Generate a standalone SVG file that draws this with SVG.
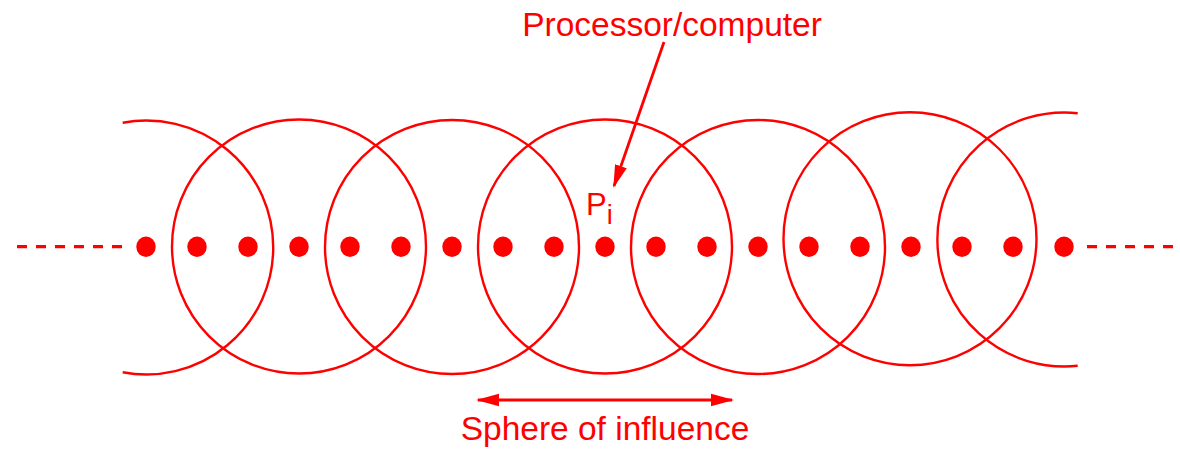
<svg xmlns="http://www.w3.org/2000/svg" width="1180" height="451" viewBox="0 0 1180 451">
<style>
.c{fill:none;stroke:#ff0000;stroke-width:2.4}
.d{fill:#ff0000}
.t{font-family:"Liberation Sans",Arial,sans-serif;fill:#ff0000}
.dash{stroke:#ff0000;stroke-width:3.2;stroke-dasharray:10 9}
.arr{stroke:#ff0000;stroke-width:2.8;fill:none}
</style>
<defs>
<marker id="ah" markerUnits="userSpaceOnUse" markerWidth="24" markerHeight="14" refX="21" refY="7" orient="auto-start-reverse" viewBox="0 0 24 14">
<path d="M0,0.8 L23,7 L0,13.2 Z" fill="#ff0000"/>
</marker>
</defs>
<rect width="1180" height="451" fill="#ffffff"/>
<g id="spheres">
<path class="c" d="M122.7,122.7 A127,127 0 1 1 122.7,372.3"/>
<circle class="c" cx="299" cy="246.5" r="127"/>
<circle class="c" cx="452" cy="247" r="127"/>
<circle class="c" cx="605" cy="246.5" r="127"/>
<circle class="c" cx="758" cy="247" r="127"/>
<circle class="c" cx="910" cy="238.7" r="126.5"/>
<path class="c" d="M1077.7,113.2 A127,127 0 1 0 1077.7,365.8"/>
</g>
<g id="processors">
<ellipse class="d" cx="146" cy="246.7" rx="9.7" ry="10.2"/>
<ellipse class="d" cx="197" cy="246.7" rx="9.7" ry="10.2"/>
<ellipse class="d" cx="248" cy="246.7" rx="9.7" ry="10.2"/>
<ellipse class="d" cx="299" cy="246.7" rx="9.7" ry="10.2"/>
<ellipse class="d" cx="350" cy="246.7" rx="9.7" ry="10.2"/>
<ellipse class="d" cx="401" cy="246.7" rx="9.7" ry="10.2"/>
<ellipse class="d" cx="452" cy="246.7" rx="9.7" ry="10.2"/>
<ellipse class="d" cx="503" cy="246.7" rx="9.7" ry="10.2"/>
<ellipse class="d" cx="554" cy="246.7" rx="9.7" ry="10.2"/>
<ellipse class="d" cx="605" cy="246.7" rx="9.7" ry="10.2"/>
<ellipse class="d" cx="656" cy="246.7" rx="9.7" ry="10.2"/>
<ellipse class="d" cx="707" cy="246.7" rx="9.7" ry="10.2"/>
<ellipse class="d" cx="758" cy="246.7" rx="9.7" ry="10.2"/>
<ellipse class="d" cx="809" cy="246.7" rx="9.7" ry="10.2"/>
<ellipse class="d" cx="860" cy="246.7" rx="9.7" ry="10.2"/>
<ellipse class="d" cx="911" cy="246.7" rx="9.7" ry="10.2"/>
<ellipse class="d" cx="962" cy="246.7" rx="9.7" ry="10.2"/>
<ellipse class="d" cx="1013" cy="246.7" rx="9.7" ry="10.2"/>
<ellipse class="d" cx="1064" cy="246.7" rx="9.7" ry="10.2"/>
</g>
<g id="continuation">
<line class="dash" x1="17" y1="246.7" x2="124" y2="246.7"/>
<line class="dash" x1="1087" y1="246.7" x2="1180" y2="246.7"/>
</g>
<g id="label-processor">
<text class="t" x="672" y="36" font-size="33.5" text-anchor="middle">Processor/computer</text>
</g>
<g id="label-pi">
<text class="t" x="586" y="215" font-size="31">P<tspan font-size="27" dy="9">i</tspan></text>
</g>
<g id="label-sphere">
<text class="t" x="605" y="440" font-size="33.5" text-anchor="middle">Sphere of influence</text>
</g>
<g id="connectors">
<line class="arr" x1="664" y1="42" x2="614" y2="186" marker-end="url(#ah)"/>
<line class="arr" x1="478" y1="400" x2="732" y2="400" marker-start="url(#ah)" marker-end="url(#ah)"/>
</g>
</svg>
